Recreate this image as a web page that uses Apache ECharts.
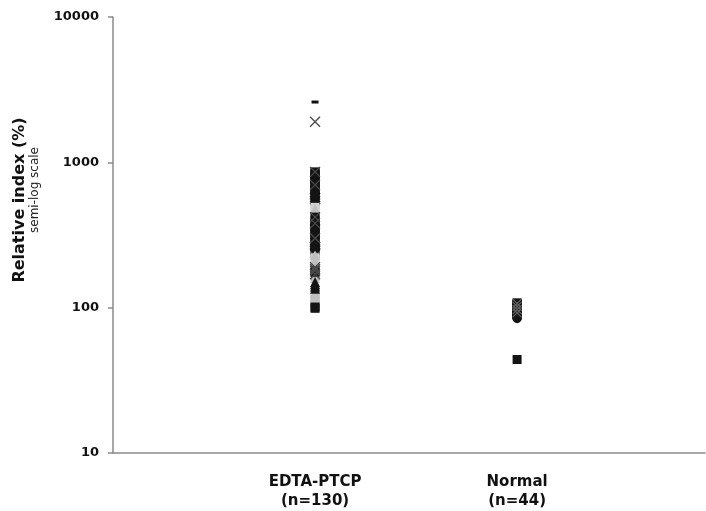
<!DOCTYPE html>
<html>
<head>
<meta charset="utf-8">
<script src="https://cdn.jsdelivr.net/npm/echarts@6/dist/echarts.min.js"></script>
<style>
html,body{margin:0;padding:0;background:#fff;}
#chart{width:706px;height:511px;}
</style>
</head>
<body>
<div id="chart"></div>
<script>
// Category positions (x = 1, 2) and labels
const categories = ['EDTA-PTCP\n(n=130)', 'Normal\n(n=44)'];
const yTicks = [10, 100, 1000, 10000];

// EDTA-PTCP group (x = 1)
const edtaBlackSquare = [860, 850, 830, 820, 800, 780, 760, 740, 720, 690, 650, 640, 610, 420, 400, 380, 360, 340, 330, 310, 300, 180, 175, 101, 99];
const edtaBlackDiamond = [610, 580, 560, 540, 520, 370, 280, 270, 265, 255, 250];
const edtaBlackTriangle = [320, 300, 290, 280, 265, 150, 145, 140, 135];
const edtaCross = [1900, 860, 700, 420, 380, 300, 190, 185, 180, 170];
const edtaDarkSquare = [760, 700, 640, 600, 560, 390, 350, 340, 320, 290, 275, 245, 240, 230];
const edtaGreyCircle = [510, 500, 440, 410, 360, 345, 330, 310, 290, 280, 270, 260, 250, 235, 225, 170, 165, 160];
const edtaGreyDiamond = [400, 360, 300, 260, 240, 165, 155];
const edtaLightSquare = [490, 470, 460, 450, 440, 220, 215, 205, 200, 195, 190, 132, 130, 128, 125, 122, 120, 118, 116, 115, 113, 112, 110, 108, 106];
const edtaLightTriangle = [480, 230, 210, 200, 160, 128, 125, 120, 118, 115];
const edtaDash = [2600];

// Normal group (x = 2)
const normBlackSquare = [108, 106, 105, 104, 103, 101, 100, 99, 98, 96, 95, 94, 93, 91, 90, 89, 44];
const normBlackCircle = [84, 85, 86, 87, 88];
const normCross = [107, 102, 97, 92];
const normDarkSquare = [106, 102, 99, 96, 93, 90];
const normBlackDiamond = [104, 100, 97, 94, 89];
const normBlackTriangle = [103, 98, 95, 91];
const normLight = [101, 92, 88];

const FONT = 'DejaVu Sans, Verdana, sans-serif';
const crossPath = 'path://M0,0L10,10M10,0L0,10';

function pts(x, arr) { return arr.map(v => [x, v]); }
function mk(name, x, arr, symbol, size, color, extra) {
  const s = {
    name: name, type: 'scatter', data: pts(x, arr),
    symbol: symbol, symbolSize: size,
    itemStyle: { color: color, opacity: 1 },
    emphasis: { disabled: true }, silent: true
  };
  if (extra) Object.assign(s.itemStyle, extra);
  return s;
}

const series = [
  mk('e-gc', 1, edtaGreyCircle, 'circle', 9, '#9a9a9a'),
  mk('e-gd', 1, edtaGreyDiamond, 'diamond', 10, '#a8a8a8'),
  mk('e-ds', 1, edtaDarkSquare, 'rect', 9, '#555555'),
  mk('e-bd', 1, edtaBlackDiamond, 'diamond', 11, '#141414'),
  mk('e-ls', 1, edtaLightSquare, 'rect', 9, '#d2d2d2'),
  mk('e-lt', 1, edtaLightTriangle, 'triangle', 10, '#c0c0c0'),
  mk('e-bs', 1, edtaBlackSquare, 'rect', 9, '#141414'),
  mk('e-bt', 1, edtaBlackTriangle, 'triangle', 10, '#141414'),
  mk('e-x', 1, edtaCross, crossPath, 10, 'none', { borderColor: '#4a4a4a', borderWidth: 1.3 }),
  mk('e-dash', 1, edtaDash, 'rect', [7, 3], '#111'),
  mk('n-l', 2, normLight, 'rect', 9, '#c8c8c8'),
  mk('n-ds', 2, normDarkSquare, 'rect', 9, '#555555'),
  mk('n-bs', 2, normBlackSquare, 'rect', 9, '#141414'),
  mk('n-bc', 2, normBlackCircle, 'circle', 9, '#141414'),
  mk('n-bd', 2, normBlackDiamond, 'diamond', 10, '#141414'),
  mk('n-bt', 2, normBlackTriangle, 'triangle', 9, '#141414'),
  mk('n-x', 2, normCross, crossPath, 9, 'none', { borderColor: '#666', borderWidth: 1.2 })
];

const chart = echarts.init(document.getElementById('chart'), null, { renderer: 'canvas' });
chart.setOption({
  animation: false,
  backgroundColor: '#fff',
  grid: { left: 113, top: 17, right: 1, bottom: 58, containLabel: false },
  xAxis: {
    type: 'value', min: 0, max: 2.93, interval: 1,
    axisLine: { show: true, lineStyle: { color: '#8a8a8a', width: 1.5 } },
    axisTick: { show: false },
    splitLine: { show: false },
    axisLabel: {
      show: true, margin: 20, showMaxLabel: false, showMinLabel: true,
      fontFamily: FONT, fontWeight: 'bold', fontSize: 15, lineHeight: 19, color: '#111',
      formatter: function (v) {
        const i = Math.round(v) - 1;
        return (Math.abs(v - Math.round(v)) < 1e-6 && i >= 0 && i < categories.length) ? categories[i] : '';
      }
    }
  },
  yAxis: {
    type: 'log', logBase: 10, min: yTicks[0], max: yTicks[yTicks.length - 1],
    axisLine: { show: true, lineStyle: { color: '#8a8a8a', width: 1.5 } },
    axisTick: { show: true, length: 5, lineStyle: { color: '#8a8a8a', width: 1.5 } },
    minorTick: { show: false },
    splitLine: { show: false },
    axisLabel: {
      margin: 14, fontFamily: FONT, fontWeight: 'bold', fontSize: 13, color: '#111',
      formatter: function (v) { return String(Math.round(v)); }
    }
  },
  graphic: [
    {
      type: 'text', x: 20, y: 200, rotation: Math.PI / 2,
      style: { text: 'Relative index (%)', fontFamily: FONT, fontWeight: 'bold', fontSize: 16,
        fill: '#111', align: 'center', verticalAlign: 'middle' }
    },
    {
      type: 'text', x: 35, y: 190, rotation: Math.PI / 2,
      style: { text: 'semi-log scale', fontFamily: FONT, fontSize: 12,
        fill: '#222', align: 'center', verticalAlign: 'middle' }
    }
  ],
  series: series
});
</script>
</body>
</html>
